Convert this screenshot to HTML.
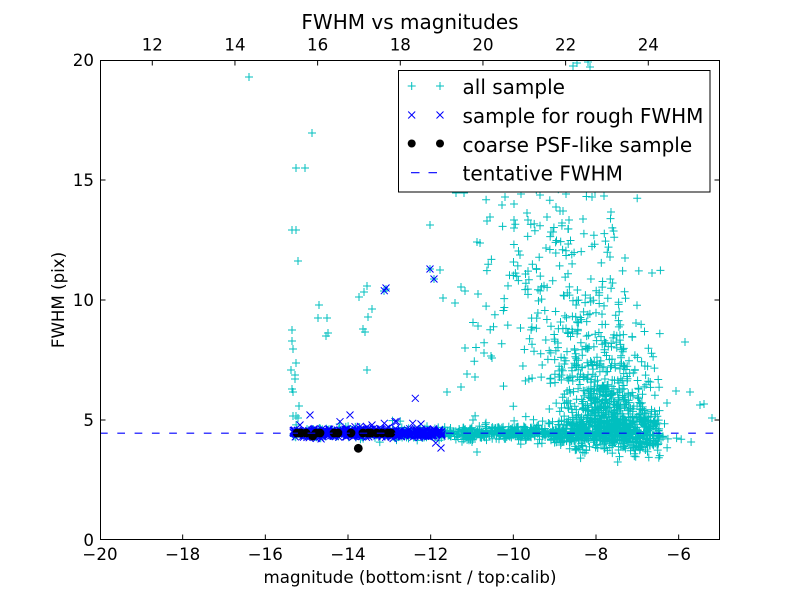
<!DOCTYPE html>
<html><head><meta charset="utf-8">
<style>
html,body{margin:0;padding:0;background:#fff;}
svg{display:block;}
text{font-family:"DejaVu Sans","Liberation Sans",sans-serif;fill:#000;}
</style></head>
<body>
<svg id="s" width="800" height="600" xmlns="http://www.w3.org/2000/svg">
<defs><clipPath id="c"><rect x="100" y="60" width="620" height="480"/></clipPath></defs>
<rect width="800" height="600" fill="#fff"/>
<g clip-path="url(#c)">
  <path id="cy" fill="none" stroke="#00bfbf" stroke-width="1"/>
  <path id="bx" fill="none" stroke="#0000ff" stroke-width="1"/>
  <g id="bk" fill="#000"></g>
  <line x1="100" y1="433.2" x2="720" y2="433.2" stroke="#0000ff" stroke-width="1.2" stroke-dasharray="7.7,9.6"/>
</g>
<rect x="100.5" y="60.5" width="619" height="479" fill="none" stroke="#000" stroke-width="1"/>
<g stroke="#000" stroke-width="1" id="ticks"></g>
<g font-size="16.67" text-anchor="end">
  <text x="94" y="546">0</text>
  <text x="94" y="426">5</text>
  <text x="94" y="306">10</text>
  <text x="94" y="186">15</text>
  <text x="94" y="66">20</text>
</g>
<g font-size="16.67" text-anchor="middle">
  <text x="100" y="560">−20</text>
  <text x="182.7" y="560">−18</text>
  <text x="265.3" y="560">−16</text>
  <text x="348" y="560">−14</text>
  <text x="430.7" y="560">−12</text>
  <text x="513.3" y="560">−10</text>
  <text x="596" y="560">−8</text>
  <text x="678.7" y="560">−6</text>
</g>
<g font-size="16.67" text-anchor="middle">
  <text x="152.3" y="50.5">12</text>
  <text x="235" y="50.5">14</text>
  <text x="317.6" y="50.5">16</text>
  <text x="400.3" y="50.5">18</text>
  <text x="483" y="50.5">20</text>
  <text x="565.6" y="50.5">22</text>
  <text x="648.3" y="50.5">24</text>
</g>
<text x="410" y="29" font-size="20" text-anchor="middle">FWHM vs magnitudes</text>
<text x="410" y="583" font-size="16.67" text-anchor="middle">magnitude (bottom:isnt / top:calib)</text>
<text transform="translate(64,300) rotate(-90)" font-size="16.67" text-anchor="middle">FWHM (pix)</text>
<rect x="398.5" y="70.5" width="311.5" height="121.5" fill="#fff" stroke="#000" stroke-width="1"/>
<g stroke="#00bfbf" stroke-width="1" fill="none">
  <path d="M407.7 86h8M411.7 82v8M436 86h8M440 82v8"/>
</g>
<g stroke="#0000ff" stroke-width="1" fill="none">
  <path d="M408.2 111.5l7 7M408.2 118.5l7 -7M436.5 111.5l7 7M436.5 118.5l7 -7"/>
  <path d="M411 172.7h8.5M428.5 172.7h8.5" stroke-width="1.2"/>
</g>
<circle cx="411.7" cy="143.5" r="4" fill="#000"/>
<circle cx="440" cy="143.5" r="4" fill="#000"/>
<g font-size="20">
  <text x="462.5" y="94">all sample</text>
  <text x="462.5" y="123">sample for rough FWHM</text>
  <text x="462.5" y="152">coarse PSF-like sample</text>
  <text x="462.5" y="180.5">tentative FWHM</text>
</g>
</svg>
<script>
(function(){
var s=12345;
function r(){ s=(Math.imul(s,1664525)+1013904223)>>>0; return s/4294967296; }
function g(){ var u=r(); if(u<1e-9)u=1e-9; return Math.sqrt(-2*Math.log(u))*Math.cos(6.283185*r()); }
var cy=[], bx=[];
function f(v){return v.toFixed(1);}
function P(x,y){ cy.push("M"+f(x-4)+" "+f(y)+"h8M"+f(x)+" "+f(y-4)+"v8"); }
function X(x,y){ bx.push("M"+f(x-3.5)+" "+f(y-3.5)+"l7 7M"+f(x-3.5)+" "+f(y+3.5)+"l7 -7"); }
var Y0=433.2, i, x, h, sd;
for(i=0;i<250;i++){ P(293+r()*150, Y0+g()*3); }
for(i=0;i<800;i++){ x=440+220*Math.pow(r(),0.8); sd=3.5+Math.max(0,x-540)*0.06; P(x, Y0+g()*sd); }
for(i=0;i<600;i++){ h=-45*Math.log(r()+1e-9); if(h>360) continue; x=610-0.15*h+g()*(20+0.12*h); if(x>665) x=665-r()*15; P(x, Y0-h+g()*3); }
for(i=0;i<190;i++){ h=10+200*r(); x=572-0.1*h+g()*40; if(x>655) x=655-r()*30; if(x<470) x=470+r()*20; P(x, Y0-h); }
for(i=0;i<40;i++){ h=230+130*r(); x=565+g()*35; P(x, Y0-h); }
for(i=0;i<110;i++){ x=615+g()*30; if(x>712)x=712-r()*20; P(x, Y0+Math.abs(g())*10); }
var ex=[[249,77],[312,133],[296,168],[305,168],[292,230],[296,230],[298,261],[319,305],[318,318],[327,318],[328,333],[326,336],[292,330],[292,341],[293,349],[296,363],[291,370],[295,375],[295,379],[292,389],[293,392],[299,406],[293,416],[296,416],[298,418],[359,297],[364,292],[367,286],[372,309],[368,317],[363,329],[365,332],[367,370],[443,298],[455,303],[461,287],[465,291],[478,294],[465,348],[478,326],[467,374],[475,377],[461,387],[447,392],[473,420],[472,442],[477,452],[430,225],[477,242],[480,243],[484,353],[491,356],[492,358],[502,205],[505,197],[514,204],[490,217],[487,221],[514,220],[514,228],[527,213],[528,220],[547,217],[556,207],[560,211],[563,211],[562,223],[551,232],[553,232],[568,229],[569,220],[566,194],[456,193],[464,193],[573,66],[577,63],[588,62],[590,67],[521,194],[592,197],[604,196],[611,212],[583,219],[610,257],[625,258],[546,248],[440,270],[595,192],[540,195],[685,342],[652,273],[636,323],[704,404],[712,418],[700,405],[690,392],[676,391],[667,403],[430,269],[434,279],[386,289],[384,291]];
for(i=0;i<ex.length;i++) P(ex[i][0],ex[i][1]);
for(i=0;i<450;i++){ X(293+r()*149, Y0+g()*2.2); }
var bo=[[310,415],[340,421.7],[350,415],[384.3,290.7],[386,288],[434,279],[430,269],[415.3,398.3],[435.7,443],[441,448],[384.3,423.3],[395,421.7],[396.7,421.7],[412.7,423.3],[355,426.7],[367,427],[300,425],[372,425],[421,424]];
for(i=0;i<bo.length;i++) X(bo[i][0],bo[i][1]);
document.getElementById("cy").setAttribute("d",cy.join(""));
document.getElementById("bx").setAttribute("d",bx.join(""));
var bd=[[297,433],[301,433],[306,433],[312.7,436],[316,433],[320,433],[334,433],[338,433],[351,433],[363,433],[368,433],[371,433],[376.7,433],[382,433],[387.7,433],[391,433],[358.3,448.3]];
var bk="";
for(i=0;i<bd.length;i++) bk+='<circle cx="'+bd[i][0]+'" cy="'+bd[i][1]+'" r="4.4"/>';
document.getElementById("bk").innerHTML=bk;
var t="";
var bt=[-18,-16,-14,-12,-10,-8,-6];
for(i=0;i<bt.length;i++){ x=100+(bt[i]+20)*41.333; t+='<line x1="'+x+'" y1="540" x2="'+x+'" y2="534.5"/>'; }
var tt=[12,14,16,18,20,22,24];
for(i=0;i<tt.length;i++){ x=100+(tt[i]-10.735)*41.333; t+='<line x1="'+x+'" y1="60" x2="'+x+'" y2="65.5"/>'; }
var yt=[420,300,180];
for(i=0;i<yt.length;i++){ t+='<line x1="100" y1="'+yt[i]+'" x2="105.5" y2="'+yt[i]+'"/><line x1="720" y1="'+yt[i]+'" x2="714.5" y2="'+yt[i]+'"/>'; }
document.getElementById("ticks").innerHTML=t;
})();
</script>
</body></html>
